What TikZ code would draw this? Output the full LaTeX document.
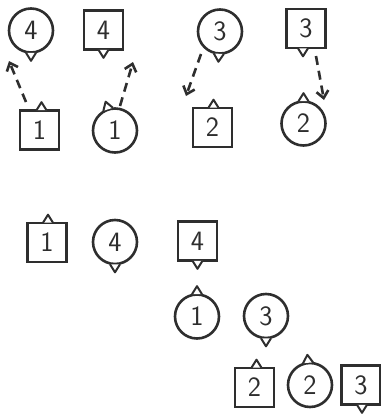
\documentclass[tikz,border=0pt]{standalone}
\usetikzlibrary{arrows.meta}
\definecolor{ink}{HTML}{2E2E2E}
\begin{document}
\begin{tikzpicture}[x=1pt,y=-1pt,
  every node/.style={draw=ink,line width=2.6pt,text=ink,inner sep=0pt,
    font=\sffamily\fontsize{28}{28}\selectfont},
  circ/.style={circle,minimum size=44pt},
  sq/.style={rectangle,minimum size=39pt},
  tri/.pic={\draw[ink,line width=2pt,fill=white,line join=round] (-1,-5) -- (7,0) -- (-1,5);},
  darrow/.style={draw=ink,line width=2.6pt,dash pattern=on 9pt off 6pt,
    -{Straight Barb[length=7pt,width=12pt,line width=2.6pt]}}
]
\useasboundingbox (0,0) rectangle (381,416);
% top row
\node[circ] (c4a) at (31,30.5) {4};
\node[sq]   (s4a) at (103.5,30) {4};
\node[sq]   (s1a) at (39.5,130) {1};
\node[circ] (c1a) at (115,130.5) {1};
\node[circ] (c3a) at (220,31.5) {3};
\node[sq]   (s3a) at (306,28.5) {3};
\node[sq]   (s2a) at (212.5,127.5) {2};
\node[circ] (c2a) at (303.5,123.5) {2};
% pointers top row
\pic[rotate=-90] at (c4a.south) {tri};
\pic[rotate=-90] at (s4a.south) {tri};
\pic[rotate=90] at ([xshift=2pt]s1a.north) {tri};
\pic[rotate=108] at (c1a.108) {tri};
\pic[rotate=-93] at (c3a.267) {tri};
\pic[rotate=-90] at ([xshift=-3pt]s3a.south) {tri};
\pic[rotate=90] at ([xshift=1pt]s2a.north) {tri};
\pic[rotate=90] at (c2a.north) {tri};
% arrows
\coordinate (a1s) at (26,102);
\coordinate (a1e) at (9,61);
\coordinate (a2s) at (120,106);
\coordinate (a2e) at (133,62);
\coordinate (a3s) at (201,54);
\coordinate (a3e) at (186,96);
\coordinate (a4s) at (316,56);
\coordinate (a4e) at (324,100);
\draw[darrow] (a1s) -- (a1e);
\draw[darrow] (a2s) -- (a2e);
\draw[darrow] (a3s) -- (a3e);
\draw[darrow] (a4s) -- (a4e);
% bottom group
\node[sq]   (s1b) at (47,242.5) {1};
\node[circ] (c4b) at (115,242) {4};
\node[sq]   (s4b) at (197.5,241) {4};
\node[circ] (c1b) at (197,316.5) {1};
\node[circ] (c3b) at (266,316) {3};
\node[sq]   (s2b) at (254.5,387.5) {2};
\node[circ] (c2b) at (310,385) {2};
\node[sq]   (s3b) at (361,385) {3};
\pic[rotate=90] at ([xshift=1pt]s1b.north) {tri};
\pic[rotate=-90] at (c4b.south) {tri};
\pic[rotate=-90] at (s4b.south) {tri};
\pic[rotate=90] at (c1b.north) {tri};
\pic[rotate=-90] at (c3b.south) {tri};
\pic[rotate=90] at ([xshift=2pt]s2b.north) {tri};
\pic[rotate=95] at (c2b.95) {tri};
\pic[rotate=-90] at ([xshift=1pt]s3b.south) {tri};
\end{tikzpicture}
\end{document}
